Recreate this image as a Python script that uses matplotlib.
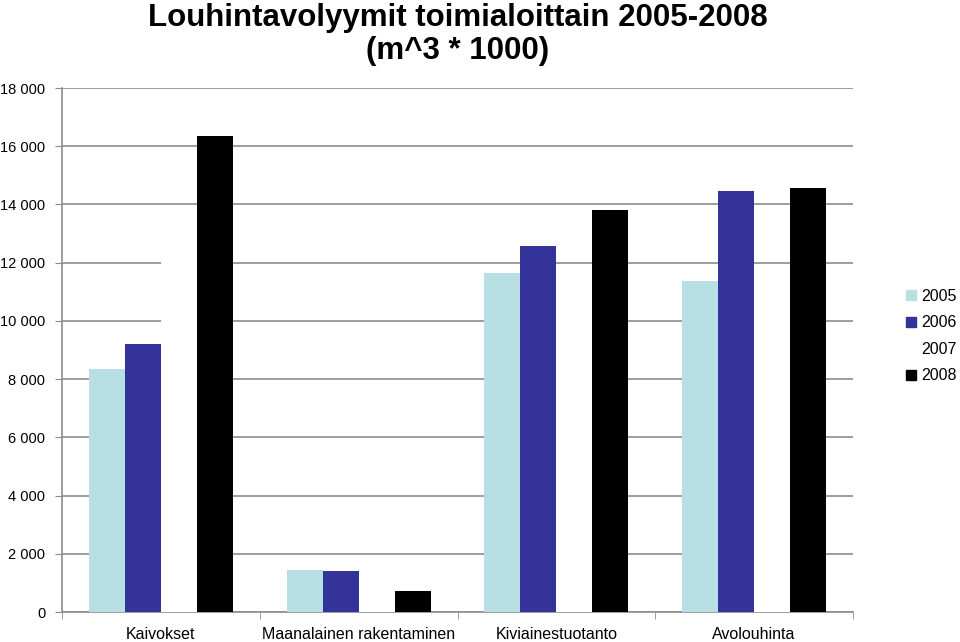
import matplotlib
matplotlib.use("Agg")
import matplotlib.pyplot as plt
import numpy as np
from matplotlib.lines import Line2D

categories = ["Kaivokset", "Maanalainen rakentaminen", "Kiviainestuotanto", "Avolouhinta"]
years = ["2005", "2006", "2007", "2008"]
v2005 = [8350, 1440, 11650, 11370]
v2006 = [9200, 1410, 12570, 14460]
v2007 = [13000, 1000, 11000, 11500]
v2008 = [16350, 720, 13810, 14570]
colors = ["#B8DFE3", "#333399", "#FFFFFF", "#000000"]
yticks = np.arange(0, 18001, 2000)
ytick_labels = ["0" if t == 0 else f"{t//1000} 000" for t in yticks]

plt.rcParams['font.family'] = ['Liberation Sans', 'DejaVu Sans']

fig = plt.figure(figsize=(9.6, 6.42), dpi=100)
ax = fig.add_axes([62/960, 1-612/642, (853-62)/960, (612-88)/642])

series = [v2005, v2006, v2007, v2008]
x = np.arange(len(categories))
w = 36/197.75
for i, (vals, c) in enumerate(zip(series, colors)):
    ax.bar(x + (i - 1.5) * w, vals, width=w, color=c, edgecolor='none', zorder=3)

ax.set_xlim(-0.5, len(categories) - 0.5)
ax.set_ylim(0, 18000)
ax.set_yticks(yticks)
ax.set_yticklabels(ytick_labels, fontsize=10.5)
ax.yaxis.grid(True, color="#8c8c8c", linewidth=1.2, zorder=0)
ax.set_axisbelow(True)
ax.set_xticks(x)
ax.set_xticklabels(categories, fontsize=11.5)
ax.set_xticks(np.arange(-0.5, len(categories), 1.0), minor=True)
ax.tick_params(axis='x', which='major', length=0, pad=11)
ax.tick_params(axis='x', which='minor', length=5, color="#8c8c8c", direction='out')
ax.tick_params(axis='y', length=5, color="#8c8c8c", pad=7)
for s in ['top', 'right']:
    ax.spines[s].set_visible(False)
for s in ['left', 'bottom']:
    ax.spines[s].set_color("#8c8c8c")
    ax.spines[s].set_linewidth(1.2)

tfam = ['Liberation Sans Narrow', 'Liberation Sans']
fig.text(458/960, 1-26/642, "Louhintavolyymit toimialoittain 2005-2008",
         ha='center', va='baseline', fontsize=22.5, fontweight='bold', family=tfam)
fig.text(458/960, 1-59/642, "(m^3 * 1000)",
         ha='center', va='baseline', fontsize=22.5, fontweight='bold', family=tfam)

handles = [Line2D([0], [0], marker='s', linestyle='none', markersize=7,
                  markerfacecolor=c, markeredgecolor=c) for c in colors]
fig.legend(handles, years, loc='center left', bbox_to_anchor=(900/960, 1-336/642),
           frameon=False, fontsize=11.5, handlelength=0.6, handletextpad=0.3,
           labelspacing=0.72, borderaxespad=0)

fig.savefig("out.png", dpi=100)
